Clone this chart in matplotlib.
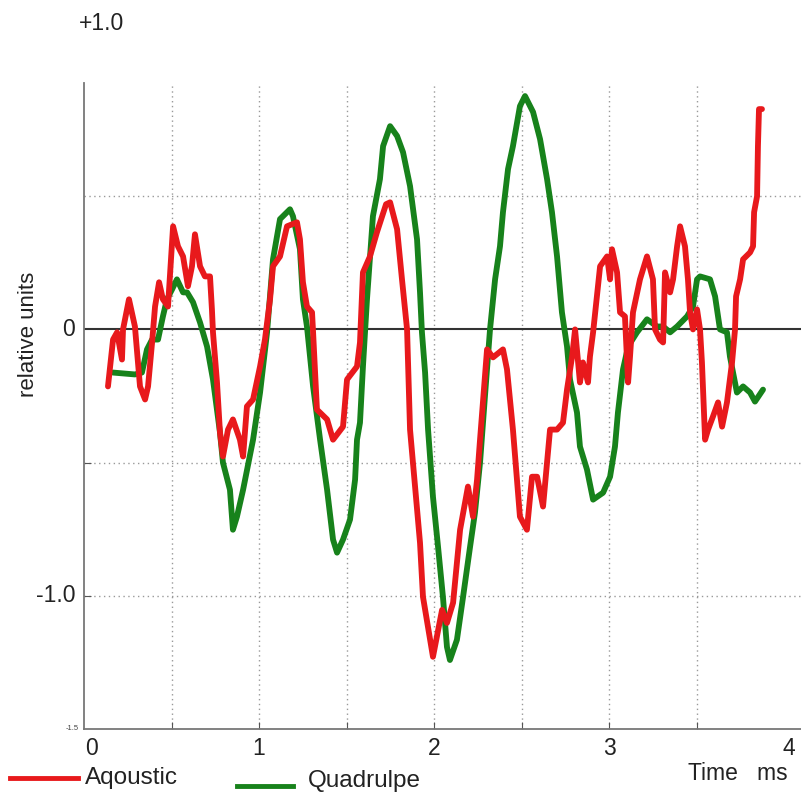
import matplotlib
matplotlib.use("Agg")
import matplotlib.pyplot as plt
from matplotlib.lines import Line2D

plt.rcParams['font.family'] = ['Liberation Sans', 'DejaVu Sans']

# ---- data (time in ms, value in relative units) ----
aq_t = [0.137, 0.166, 0.189, 0.217, 0.223, 0.257, 0.291, 0.320, 0.349, 0.366,
        0.389, 0.406, 0.429, 0.451, 0.480, 0.509, 0.537, 0.566, 0.594, 0.617,
        0.634, 0.663, 0.691, 0.720, 0.731, 0.737, 0.760, 0.777, 0.794, 0.823,
        0.851, 0.891, 0.909, 0.931, 0.966, 1.006, 1.034, 1.063, 1.080, 1.120,
        1.160, 1.217, 1.234, 1.251, 1.274, 1.303, 1.309, 1.331, 1.389, 1.423,
        1.480, 1.503, 1.560, 1.577, 1.594, 1.634, 1.674, 1.726, 1.749, 1.789,
        1.817, 1.846, 1.863, 1.920, 1.937, 1.994, 2.046, 2.074, 2.109, 2.149,
        2.194, 2.223, 2.246, 2.263, 2.303, 2.337, 2.394, 2.417, 2.451, 2.491,
        2.531, 2.560, 2.589, 2.623, 2.663, 2.703, 2.737, 2.760, 2.789, 2.806,
        2.834, 2.851, 2.880, 2.891, 2.909, 2.949, 2.989, 3.006, 3.017, 3.046,
        3.063, 3.091, 3.109, 3.120, 3.137, 3.177, 3.217, 3.251, 3.263, 3.291,
        3.309, 3.320, 3.349, 3.366, 3.389, 3.406, 3.434, 3.451, 3.463, 3.480,
        3.503, 3.520, 3.531, 3.549, 3.566, 3.594, 3.623, 3.646, 3.674, 3.703,
        3.720, 3.726, 3.749, 3.766, 3.806, 3.823, 3.829, 3.846, 3.851, 3.857,
        3.874]
aq_v = [-0.214, -0.038, -0.011, -0.113, 0.000, 0.113, 0.011, -0.214, -0.263, -0.214,
        -0.049, 0.086, 0.177, 0.113, 0.086, 0.387, 0.312, 0.274, 0.162, 0.237,
        0.357, 0.237, 0.199, 0.199, 0.075, -0.011, -0.199, -0.387, -0.477, -0.376,
        -0.338, -0.414, -0.477, -0.289, -0.263, -0.139, -0.038, 0.113, 0.237, 0.274,
        0.387, 0.402, 0.338, 0.177, 0.086, 0.064, -0.011, -0.301, -0.338, -0.414,
        -0.365, -0.188, -0.139, -0.049, 0.214, 0.274, 0.365, 0.470, 0.477, 0.376,
        0.188, 0.000, -0.376, -0.801, -1.004, -1.229, -1.053, -1.102, -1.026, -0.752,
        -0.590, -0.703, -0.564, -0.414, -0.075, -0.105, -0.075, -0.150, -0.376, -0.703,
        -0.752, -0.553, -0.553, -0.665, -0.376, -0.376, -0.350, -0.226, -0.102, 0.000,
        -0.199, -0.124, -0.199, -0.102, -0.011, 0.237, 0.274, 0.188, 0.301, 0.214,
        0.064, 0.049, -0.199, -0.102, 0.064, 0.188, 0.274, 0.188, 0.000, -0.038,
        -0.049, 0.214, 0.139, 0.188, 0.312, 0.387, 0.312, 0.188, 0.064, 0.000,
        0.075, 0.000, -0.124, -0.414, -0.376, -0.327, -0.274, -0.365, -0.274, -0.124,
        0.000, 0.124, 0.188, 0.263, 0.289, 0.312, 0.440, 0.500, 0.688, 0.827,
        0.827]

qu_t = [0.166, 0.291, 0.331, 0.360, 0.389, 0.423, 0.451, 0.474, 0.503, 0.531,
        0.566, 0.589, 0.623, 0.663, 0.703, 0.737, 0.777, 0.794, 0.834, 0.851,
        0.874, 0.909, 0.966, 1.006, 1.046, 1.080, 1.120, 1.177, 1.194, 1.234,
        1.251, 1.274, 1.309, 1.349, 1.389, 1.423, 1.446, 1.480, 1.520, 1.549,
        1.560, 1.577, 1.594, 1.617, 1.651, 1.691, 1.709, 1.749, 1.789, 1.823,
        1.863, 1.903, 1.920, 1.931, 1.949, 1.966, 1.994, 2.023, 2.051, 2.074,
        2.091, 2.131, 2.166, 2.206, 2.234, 2.263, 2.291, 2.320, 2.349, 2.377,
        2.394, 2.423, 2.451, 2.491, 2.520, 2.566, 2.606, 2.646, 2.674, 2.703,
        2.731, 2.760, 2.777, 2.817, 2.834, 2.874, 2.909, 2.966, 3.006, 3.034,
        3.051, 3.080, 3.109, 3.160, 3.217, 3.274, 3.309, 3.349, 3.389, 3.446,
        3.480, 3.503, 3.520, 3.577, 3.606, 3.634, 3.674, 3.691, 3.731, 3.766,
        3.806, 3.834, 3.880]
qu_v = [-0.162, -0.169, -0.162, -0.075, -0.038, -0.038, 0.049, 0.113, 0.150, 0.188,
        0.139, 0.139, 0.102, 0.026, -0.064, -0.188, -0.387, -0.500, -0.602, -0.752,
        -0.703, -0.602, -0.414, -0.237, -0.011, 0.263, 0.414, 0.451, 0.425, 0.301,
        0.113, 0.011, -0.214, -0.414, -0.602, -0.789, -0.838, -0.789, -0.714, -0.564,
        -0.414, -0.350, -0.139, 0.113, 0.425, 0.564, 0.688, 0.763, 0.726, 0.665,
        0.538, 0.338, 0.139, -0.011, -0.162, -0.376, -0.628, -0.816, -1.004, -1.192,
        -1.241, -1.165, -1.004, -0.816, -0.688, -0.500, -0.252, 0.000, 0.188, 0.312,
        0.440, 0.602, 0.688, 0.838, 0.876, 0.816, 0.714, 0.564, 0.440, 0.274,
        0.064, -0.064, -0.188, -0.312, -0.440, -0.526, -0.639, -0.613, -0.553, -0.440,
        -0.312, -0.150, -0.064, -0.011, 0.038, 0.011, 0.011, -0.011, 0.011, 0.049,
        0.086, 0.188, 0.199, 0.188, 0.124, 0.000, -0.011, -0.102, -0.237, -0.214,
        -0.237, -0.271, -0.226]

series_names = ["Aqoustic", "Quadrulpe"]
x_tick_labels = ["0", "1", "2", "3", "4"]
x_tick_label_pos = [0.04, 1.0, 2.0, 3.0, 4.03]
x_grid = [0.5, 1.0, 1.5, 2.0, 2.5, 3.0, 3.5]
y_grid = [0.5, -0.5, -1.0]

RED = '#e8191c'
GREEN = '#17821b'

fig = plt.figure(figsize=(8.01, 7.92), dpi=100)
ax = fig.add_axes([84/801, 1-729/792, (801-84)/801, (729-83)/792])
ax.set_xlim(0, 4.097)
ax.set_ylim(-1.5, 0.925)

for gx in x_grid:
    ax.axvline(gx, color='#999999', lw=1.0, ls=(0, (1, 2.5)), zorder=1)
for gy in y_grid:
    ax.axhline(gy, color='#999999', lw=1.0, ls=(0, (1, 2.5)), zorder=1)
ax.axhline(0, color='#333333', lw=1.5, zorder=2)

ax.plot(qu_t, qu_v, color=GREEN, lw=4.2, solid_joinstyle='round', solid_capstyle='round', zorder=3)
ax.plot(aq_t, aq_v, color=RED, lw=4.2, solid_joinstyle='round', solid_capstyle='round', zorder=4)

for s in ['top', 'right']:
    ax.spines[s].set_visible(False)
for s in ['left', 'bottom']:
    ax.spines[s].set_color('#777777')
    ax.spines[s].set_linewidth(1.3)

ax.set_xticks(x_grid)
ax.set_xticklabels([])
ax.set_yticks([-0.5, -1.0])
ax.set_yticklabels([])
ax.tick_params(axis='both', direction='in', length=5, color='#555555')

# tick labels
for lab, p in zip(x_tick_labels, x_tick_label_pos):
    ax.text(p, -1.53, lab, ha='center', va='top', fontsize=16.5, color='#222222')
ax.text(-0.05, 0.0, "0", ha='right', va='center', fontsize=16.5, color='#222222')
ax.text(-0.05, -1.0, "-1.0", ha='right', va='center', fontsize=16.5, color='#222222')
ax.text(-0.03, -1.5, "-1.5", ha='right', va='center', fontsize=5.5, color='#444444')
fig.text(101/801, 1-24/792, "+1.0", ha='center', va='center', fontsize=16.5, color='#222222')

fig.text(29/801, 1-334/792, "relative units", rotation=90, ha='center', va='center',
         fontsize=16, color='#222222')
fig.text(738/801, 1-773/792, "Time   ms", ha='center', va='center', fontsize=16.5, color='#222222')

# legend
fig.add_artist(Line2D([10/801, 78/801], [1-778/792, 1-778/792], color=RED, lw=3.5))
fig.text(85/801, 1-778/792, series_names[0], ha='left', va='center', fontsize=17.5, color='#222222')
fig.add_artist(Line2D([237/801, 293/801], [1-786/792, 1-786/792], color=GREEN, lw=3.5))
fig.text(308/801, 1-781/792, series_names[1], ha='left', va='center', fontsize=17.5, color='#222222')

fig.savefig("out.png", dpi=100)
